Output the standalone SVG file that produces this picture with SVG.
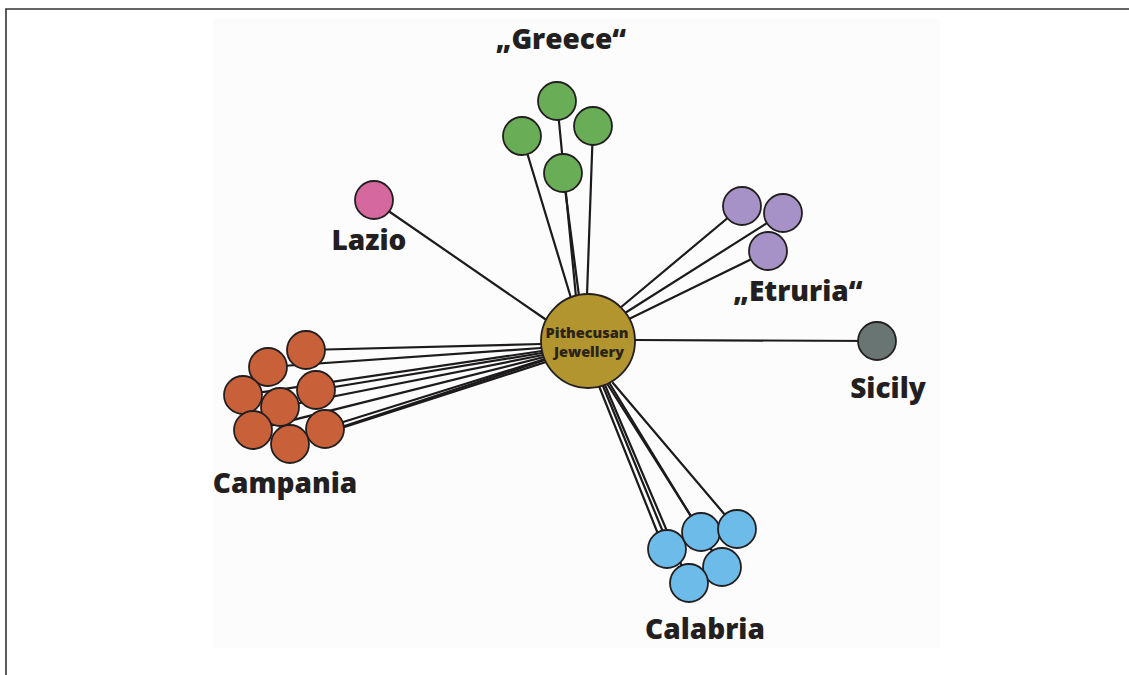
<svg xmlns="http://www.w3.org/2000/svg" width="1129" height="675" viewBox="0 0 1129 675">
  <style>
    .frame { stroke: #333333; stroke-width: 1.6; fill: none; }
    .link { stroke: #1c1a1a; stroke-width: 2.2; fill: none; stroke-linecap: round; }
    .node { stroke: #231f20; stroke-width: 1.8; }
    .label { font-family: "Open Sans", "Liberation Sans", sans-serif; font-weight: 800; font-size: 28px; fill: #231f20; }
    .hub-text { font-family: "Open Sans", "Liberation Sans", sans-serif; font-weight: 800; font-size: 14.5px; fill: #2a2417; text-anchor: middle; }
    .greece { fill: #6aad57; }
    .lazio { fill: #d4689f; }
    .etruria { fill: #a692c6; }
    .sicily { fill: #687572; }
    .campania { fill: #c8613a; }
    .calabria { fill: #6dbbe8; }
    .hub { fill: #b39530; }
  </style>

  <rect x="0" y="0" width="1129" height="675" fill="#ffffff"/>
  <rect x="213" y="18" width="727" height="630" fill="#fcfcfc"/>

  <!-- page frame -->
  <path class="frame" d="M6 675 V9 H1129"/>

  <!-- connectors -->
  <g id="connectors">
    <!-- Greece -->
    <line class="link" x1="522" y1="136" x2="571" y2="298"/>
    <line class="link" x1="557" y1="101" x2="576" y2="297"/>
    <line class="link" x1="563" y1="173" x2="579" y2="296"/>
    <line class="link" x1="593" y1="126" x2="587" y2="295"/>
    <!-- Lazio -->
    <line class="link" x1="374" y1="201" x2="545" y2="319"/>
    <!-- Etruria -->
    <line class="link" x1="742" y1="206" x2="620" y2="308"/>
    <line class="link" x1="783" y1="213" x2="625" y2="313"/>
    <line class="link" x1="768" y1="251" x2="629" y2="319"/>
    <!-- Sicily -->
    <line class="link" x1="635" y1="340" x2="877" y2="341"/>
    <!-- Campania -->
    <line class="link" x1="306" y1="350" x2="541" y2="344"/>
    <line class="link" x1="268" y1="367" x2="541" y2="348"/>
    <line class="link" x1="243" y1="395" x2="542" y2="351"/>
    <line class="link" x1="316" y1="390" x2="542" y2="353"/>
    <line class="link" x1="280" y1="407" x2="543" y2="355"/>
    <line class="link" x1="253" y1="430" x2="544" y2="357"/>
    <line class="link" x1="324" y1="428" x2="545" y2="359"/>
    <line class="link" x1="326" y1="433" x2="546" y2="362"/>
    <line class="link" x1="290" y1="444" x2="545" y2="360"/>
    <!-- Calabria -->
    <line class="link" x1="664" y1="549" x2="599" y2="386"/>
    <line class="link" x1="670" y1="549" x2="603" y2="386"/>
    <line class="link" x1="689" y1="583" x2="605" y2="385"/>
    <line class="link" x1="701" y1="532" x2="608" y2="385"/>
    <line class="link" x1="722" y1="567" x2="610" y2="384"/>
    <line class="link" x1="737" y1="529" x2="613" y2="383"/>
  </g>

  <!-- Greece -->
  <g id="greece">
    <circle class="node greece" cx="557" cy="101" r="19"/>
    <circle class="node greece" cx="522" cy="136" r="19"/>
    <circle class="node greece" cx="593" cy="126" r="19"/>
    <circle class="node greece" cx="563" cy="173" r="19"/>
    <text class="label" x="561" y="49" text-anchor="middle">„Greece“</text>
  </g>

  <!-- Lazio -->
  <g id="lazio">
    <circle class="node lazio" cx="374" cy="200" r="19"/>
    <text class="label" x="369" y="250" text-anchor="middle">Lazio</text>
  </g>

  <!-- Etruria -->
  <g id="etruria">
    <circle class="node etruria" cx="742" cy="206" r="19"/>
    <circle class="node etruria" cx="783" cy="213" r="19"/>
    <circle class="node etruria" cx="768" cy="251" r="19"/>
    <text class="label" x="798" y="301" text-anchor="middle">„Etruria“</text>
  </g>

  <!-- Sicily -->
  <g id="sicily">
    <circle class="node sicily" cx="877" cy="341" r="19"/>
    <text class="label" x="888" y="398" text-anchor="middle">Sicily</text>
  </g>

  <!-- Campania -->
  <g id="campania">
    <circle class="node campania" cx="306" cy="350" r="19"/>
    <circle class="node campania" cx="268" cy="367" r="19"/>
    <circle class="node campania" cx="243" cy="395" r="19"/>
    <circle class="node campania" cx="316" cy="390" r="19"/>
    <circle class="node campania" cx="280" cy="407" r="19"/>
    <circle class="node campania" cx="253" cy="430" r="19"/>
    <circle class="node campania" cx="325" cy="429" r="19"/>
    <circle class="node campania" cx="290" cy="444" r="19"/>
    <text class="label" x="285" y="493" text-anchor="middle">Campania</text>
  </g>

  <!-- Calabria -->
  <g id="calabria">
    <circle class="node calabria" cx="667" cy="549" r="19"/>
    <circle class="node calabria" cx="701" cy="532" r="19"/>
    <circle class="node calabria" cx="737" cy="529" r="19"/>
    <circle class="node calabria" cx="722" cy="567" r="19"/>
    <circle class="node calabria" cx="689" cy="583" r="19"/>
    <text class="label" x="705" y="639" text-anchor="middle">Calabria</text>
  </g>

  <!-- central hub -->
  <g id="pithecusan-jewellery">
    <circle class="node hub" cx="588" cy="341" r="47"/>
    <text class="hub-text" x="587" y="338">Pithecusan</text>
    <text class="hub-text" x="589" y="357">Jewellery</text>
  </g>
</svg>
